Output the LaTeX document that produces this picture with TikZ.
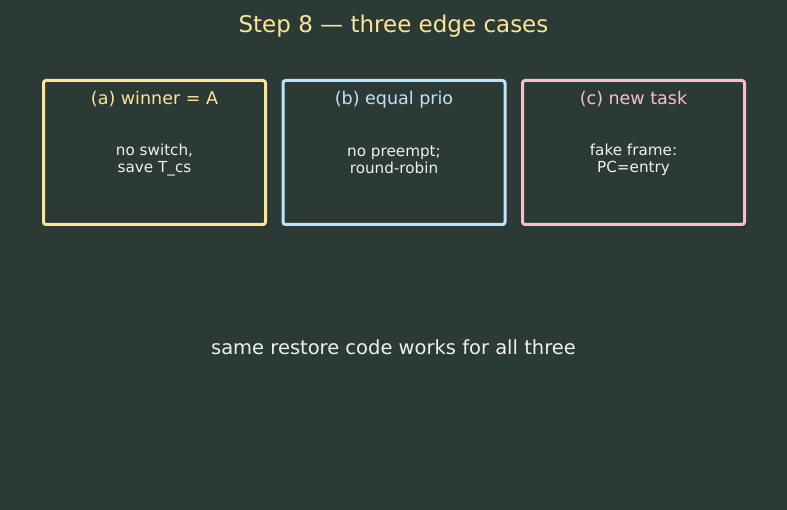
\documentclass[tikz,border=0pt]{standalone}
\usepackage{fontspec}
\setmainfont{DejaVu Sans}
\usepackage{tikz}
\usetikzlibrary{positioning}
\usepackage{xcolor}
\definecolor{bgdark}{HTML}{2B3A35}
\definecolor{caseyellow}{HTML}{FCE594}
\definecolor{caseblue}{HTML}{BFE3FA}
\definecolor{casepink}{HTML}{F8BFCD}
\definecolor{bodytext}{HTML}{F0F0EA}
\tikzset{
  casebox/.style={draw, line width=3pt, outer sep=0pt, rounded corners=2.5pt, minimum width=222pt, minimum height=144pt, anchor=north west},
  casetitle/.style={font=\fontsize{17.5}{20}\selectfont},
  casebody/.style={font=\fontsize{15.2}{16.5}\selectfont, text=bodytext, align=center}
}

\begin{document}
\begin{tikzpicture}[x=1pt, y=-1pt]
        \fill[bgdark] (0,0) rectangle (787,510);
        \useasboundingbox (0,0) rectangle (787,510);
        \node[text=caseyellow, font=\fontsize{23}{26}\selectfont] (title) at (393.5,26) {Step 8 — three edge cases};
        \foreach \x/\col/\nm/\head/\body in {
            43.5/caseyellow/casea/{(a) winner = A}/{no switch,\\save T\_cs},
            283/caseblue/caseb/{(b) equal prio}/{no preempt;\\round-robin},
            522.5/casepink/casec/{(c) new task}/{fake frame:\\PC=entry}} {
            \node[casebox, draw=\col] (\nm) at (\x,80.5) {};
            \node[casetitle, text=\col] (\nm-head) at ([yshift=-19pt]\nm.north) {\head};
            \node[casebody] (\nm-body) at ([yshift=-7.5pt]\nm.center) {\body};
        }
        \node[text=bodytext, font=\fontsize{19.5}{22}\selectfont] (note) at (393.5,347) {same restore code works for all three};
    \end{tikzpicture}
\end{document}
